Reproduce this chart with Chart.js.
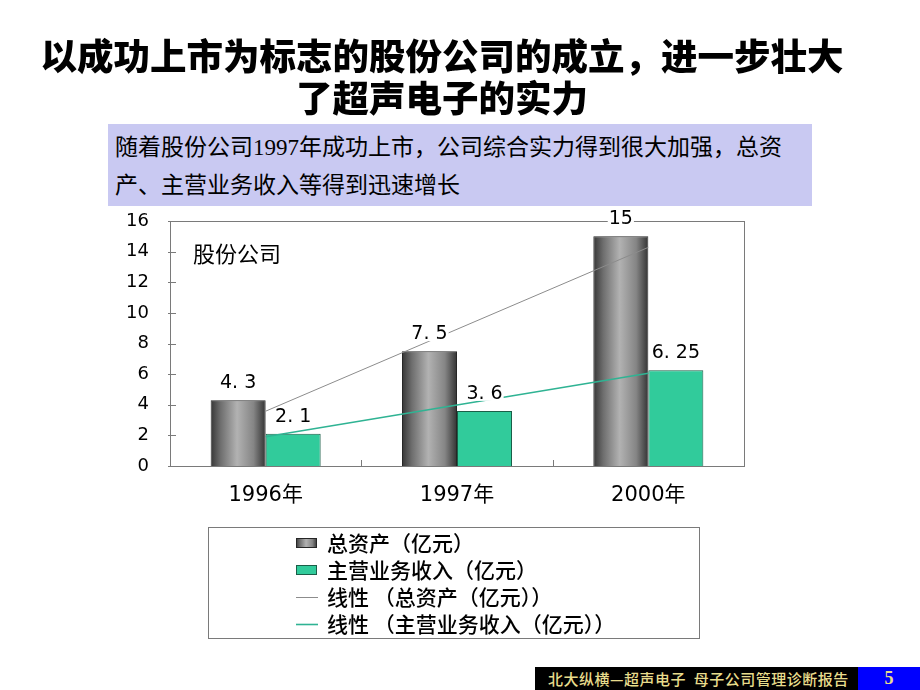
<!DOCTYPE html>
<html>
<head>
<meta charset="utf-8">
<script src="https://cdn.jsdelivr.net/npm/chart.js@4.4.1/dist/chart.umd.min.js"></script>
<style>
html,body{margin:0;padding:0;background:#fff;width:920px;height:690px;overflow:hidden;}
#wrap{position:relative;width:920px;height:690px;}
#c{position:absolute;left:0;top:0;}
.title{position:absolute;left:0;top:34px;width:884px;text-align:center;font-family:"Noto Sans CJK SC";font-weight:900;font-size:36.5px;line-height:42px;color:#000;}
.box{position:absolute;left:108px;top:124px;width:704px;height:82px;background:#c9c9f2;font-family:"Liberation Serif","Noto Sans CJK SC";font-size:23px;line-height:38px;padding:5px 0 0 7px;box-sizing:border-box;color:#000;}
.tag{position:absolute;left:193px;top:236px;font-family:"Noto Sans CJK SC";font-size:22px;line-height:32px;color:#000;}
.foot{position:absolute;left:535px;top:667px;width:323px;height:23px;background:#000;color:#e8dc8c;font-family:"Noto Sans CJK SC";font-size:15px;line-height:23px;font-weight:500;letter-spacing:0.5px;padding-left:13px;box-sizing:border-box;white-space:pre;}
.page{position:absolute;left:858px;top:667px;width:62px;height:23px;background:#0000ff;color:#e8dc8c;font-family:"Liberation Serif";font-weight:bold;font-size:18px;line-height:23px;text-align:center;}
</style>
</head>
<body>
<div id="wrap">
<canvas id="c" width="920" height="690"></canvas>
<div class="title">以成功上市为标志的股份公司的成立，进一步壮大<br>了超声电子的实力</div>
<div class="box">随着股份公司1997年成功上市，公司综合实力得到很大加强，总资<br>产、主营业务收入等得到迅速增长</div>
<div class="tag">股份公司</div>
<div class="foot">北大纵横—超声电子  母子公司管理诊断报告</div>
<div class="page">5</div>
</div>
<script>
// ---- data ----
const categories = ['1996年', '1997年', '2000年'];
const totalAssets = [4.3, 7.5, 15];          // 总资产（亿元）
const mainRevenue = [2.1, 3.6, 6.25];        // 主营业务收入（亿元）
const assetsTrend = [3.58, 8.93, 14.28];     // 线性（总资产）
const revenueTrend = [1.91, 3.98, 6.06];     // 线性（主营业务收入）
const seriesNames = ['总资产（亿元）', '主营业务收入（亿元）', '线性 （总资产（亿元））', '线性 （主营业务收入（亿元））'];
const yMin = 0, yMax = 16, yStep = 2;

function grayGradient(ctx, left, right) {
  const g = ctx.createLinearGradient(left, 0, right, 0);
  g.addColorStop(0, '#363636');
  g.addColorStop(0.18, '#6e6e6e');
  g.addColorStop(0.48, '#b2b2b2');
  g.addColorStop(0.78, '#858585');
  g.addColorStop(1, '#333333');
  return g;
}

const barPaint = {
  id: 'barPaint',
  afterDatasetDraw(chart, args) {
    if (args.index !== 0) return;
    const ctx = chart.ctx;
    ctx.save();
    args.meta.data.forEach(el => {
      const p = el.getProps(['x', 'y', 'base', 'width'], true);
      const l = p.x - p.width / 2, r = p.x + p.width / 2;
      ctx.fillStyle = grayGradient(ctx, l, r);
      ctx.fillRect(l + 1, p.y + 1, p.width - 2, p.base - p.y - 1);
    });
    ctx.restore();
  }
};

const frame = {
  id: 'frame',
  afterDatasetsDraw(chart) {
    const ctx = chart.ctx, a = chart.chartArea;
    const xs = chart.scales.x, ys = chart.scales.y;
    ctx.save();
    ctx.strokeStyle = '#7a7a7a';
    ctx.lineWidth = 1;
    ctx.strokeRect(Math.round(a.left) + 0.5, Math.round(a.top) + 0.5, Math.round(a.right - a.left), Math.round(a.bottom - a.top));
    ctx.beginPath();
    ys.ticks.forEach(t => {
      const py = Math.round(ys.getPixelForValue(t.value)) + 0.5;
      ctx.moveTo(a.left - 2, py); ctx.lineTo(a.left + 6, py);
    });
    for (let i = 0; i < categories.length - 1; i++) {
      const px = Math.round((xs.getPixelForValue(i) + xs.getPixelForValue(i + 1)) / 2) + 0.5;
      ctx.moveTo(px, a.bottom); ctx.lineTo(px, a.bottom - 6);
    }
    ctx.stroke();
    ctx.restore();
  },
  afterDraw(chart) {
    const ctx = chart.ctx;
    ctx.save();
    // data labels
    ctx.font = '19px "DejaVu Sans"';
    ctx.textAlign = 'center';
    ctx.textBaseline = 'middle';
    [0, 1].forEach(di => {
      const meta = chart.getDatasetMeta(di);
      meta.data.forEach((el, i) => {
        const txt = String(chart.data.datasets[di].data[i]).replace('.', '. ');
        const w = ctx.measureText(txt).width;
        const cy = el.y - 17;
        ctx.fillStyle = '#fff';
        ctx.fillRect(el.x - w / 2 - 1, cy - 7, w + 2, 14);
        ctx.fillStyle = '#000';
        ctx.fillText(txt, el.x, cy);
      });
    });
    // legend
    const bx = 208, by = 527, bw = 491, bh = 111;
    ctx.strokeStyle = '#7a7a7a';
    ctx.lineWidth = 1;
    ctx.strokeRect(bx + 0.5, by + 0.5, bw, bh);
    const rows = [543, 570, 597, 624];
    ctx.font = '500 21px "Noto Sans CJK SC"';
    ctx.textAlign = 'left';
    ctx.textBaseline = 'middle';
    chart.data.datasets.forEach((ds, i) => {
      const cy = rows[i];
      if (ds.type === 'bar') {
        ctx.fillStyle = i === 0 ? grayGradient(ctx, 296, 317) : ds.backgroundColor;
        ctx.fillRect(296, cy - 5, 21, 10);
        ctx.strokeStyle = ds.borderColor;
        ctx.strokeRect(296.5, cy - 4.5, 20, 9);
      } else {
        ctx.strokeStyle = ds.borderColor;
        ctx.lineWidth = ds.borderWidth;
        ctx.beginPath(); ctx.moveTo(296, cy + 0.5); ctx.lineTo(318, cy + 0.5); ctx.stroke();
        ctx.lineWidth = 1;
      }
      ctx.fillStyle = '#000';
      ctx.fillText(ds.label, 327, cy);
    });
    ctx.restore();
  }
};

new Chart(document.getElementById('c'), {
  data: {
    labels: categories,
    datasets: [
      { type: 'bar', label: seriesNames[0], data: totalAssets, backgroundColor: '#8a8a8a', borderColor: '#262626', borderWidth: 1, order: 2, categoryPercentage: 0.575, barPercentage: 1.0 },
      { type: 'bar', label: seriesNames[1], data: mainRevenue, backgroundColor: '#31cb9b', borderColor: '#1b5e48', borderWidth: 1, order: 2, categoryPercentage: 0.575, barPercentage: 1.0 },
      { type: 'line', label: seriesNames[2], data: assetsTrend, borderColor: '#8c8c8c', borderWidth: 1, pointRadius: 0, tension: 0, order: 1 },
      { type: 'line', label: seriesNames[3], data: revenueTrend, borderColor: '#2fb393', borderWidth: 1.6, pointRadius: 0, tension: 0, order: 1 }
    ]
  },
  options: {
    responsive: false,
    animation: false,
    devicePixelRatio: 1,
    layout: { padding: { left: 0, top: 221, right: 176, bottom: 0 } },
    plugins: { legend: { display: false }, tooltip: { enabled: false } },
    scales: {
      x: {
        grid: { display: false, drawTicks: false },
        border: { display: false },
        ticks: { color: '#000', font: { family: '"DejaVu Sans", "Noto Sans CJK SC"', size: 21 }, padding: 17 },
        afterFit: s => { s.height = 224; }
      },
      y: {
        min: yMin, max: yMax,
        grid: { display: false, drawTicks: false },
        border: { display: false },
        ticks: { stepSize: yStep, color: '#000', font: { family: '"DejaVu Sans"', size: 18 }, padding: 21 },
        afterFit: s => { s.width = 170; }
      }
    }
  },
  plugins: [barPaint, frame]
});
</script>
</body>
</html>
